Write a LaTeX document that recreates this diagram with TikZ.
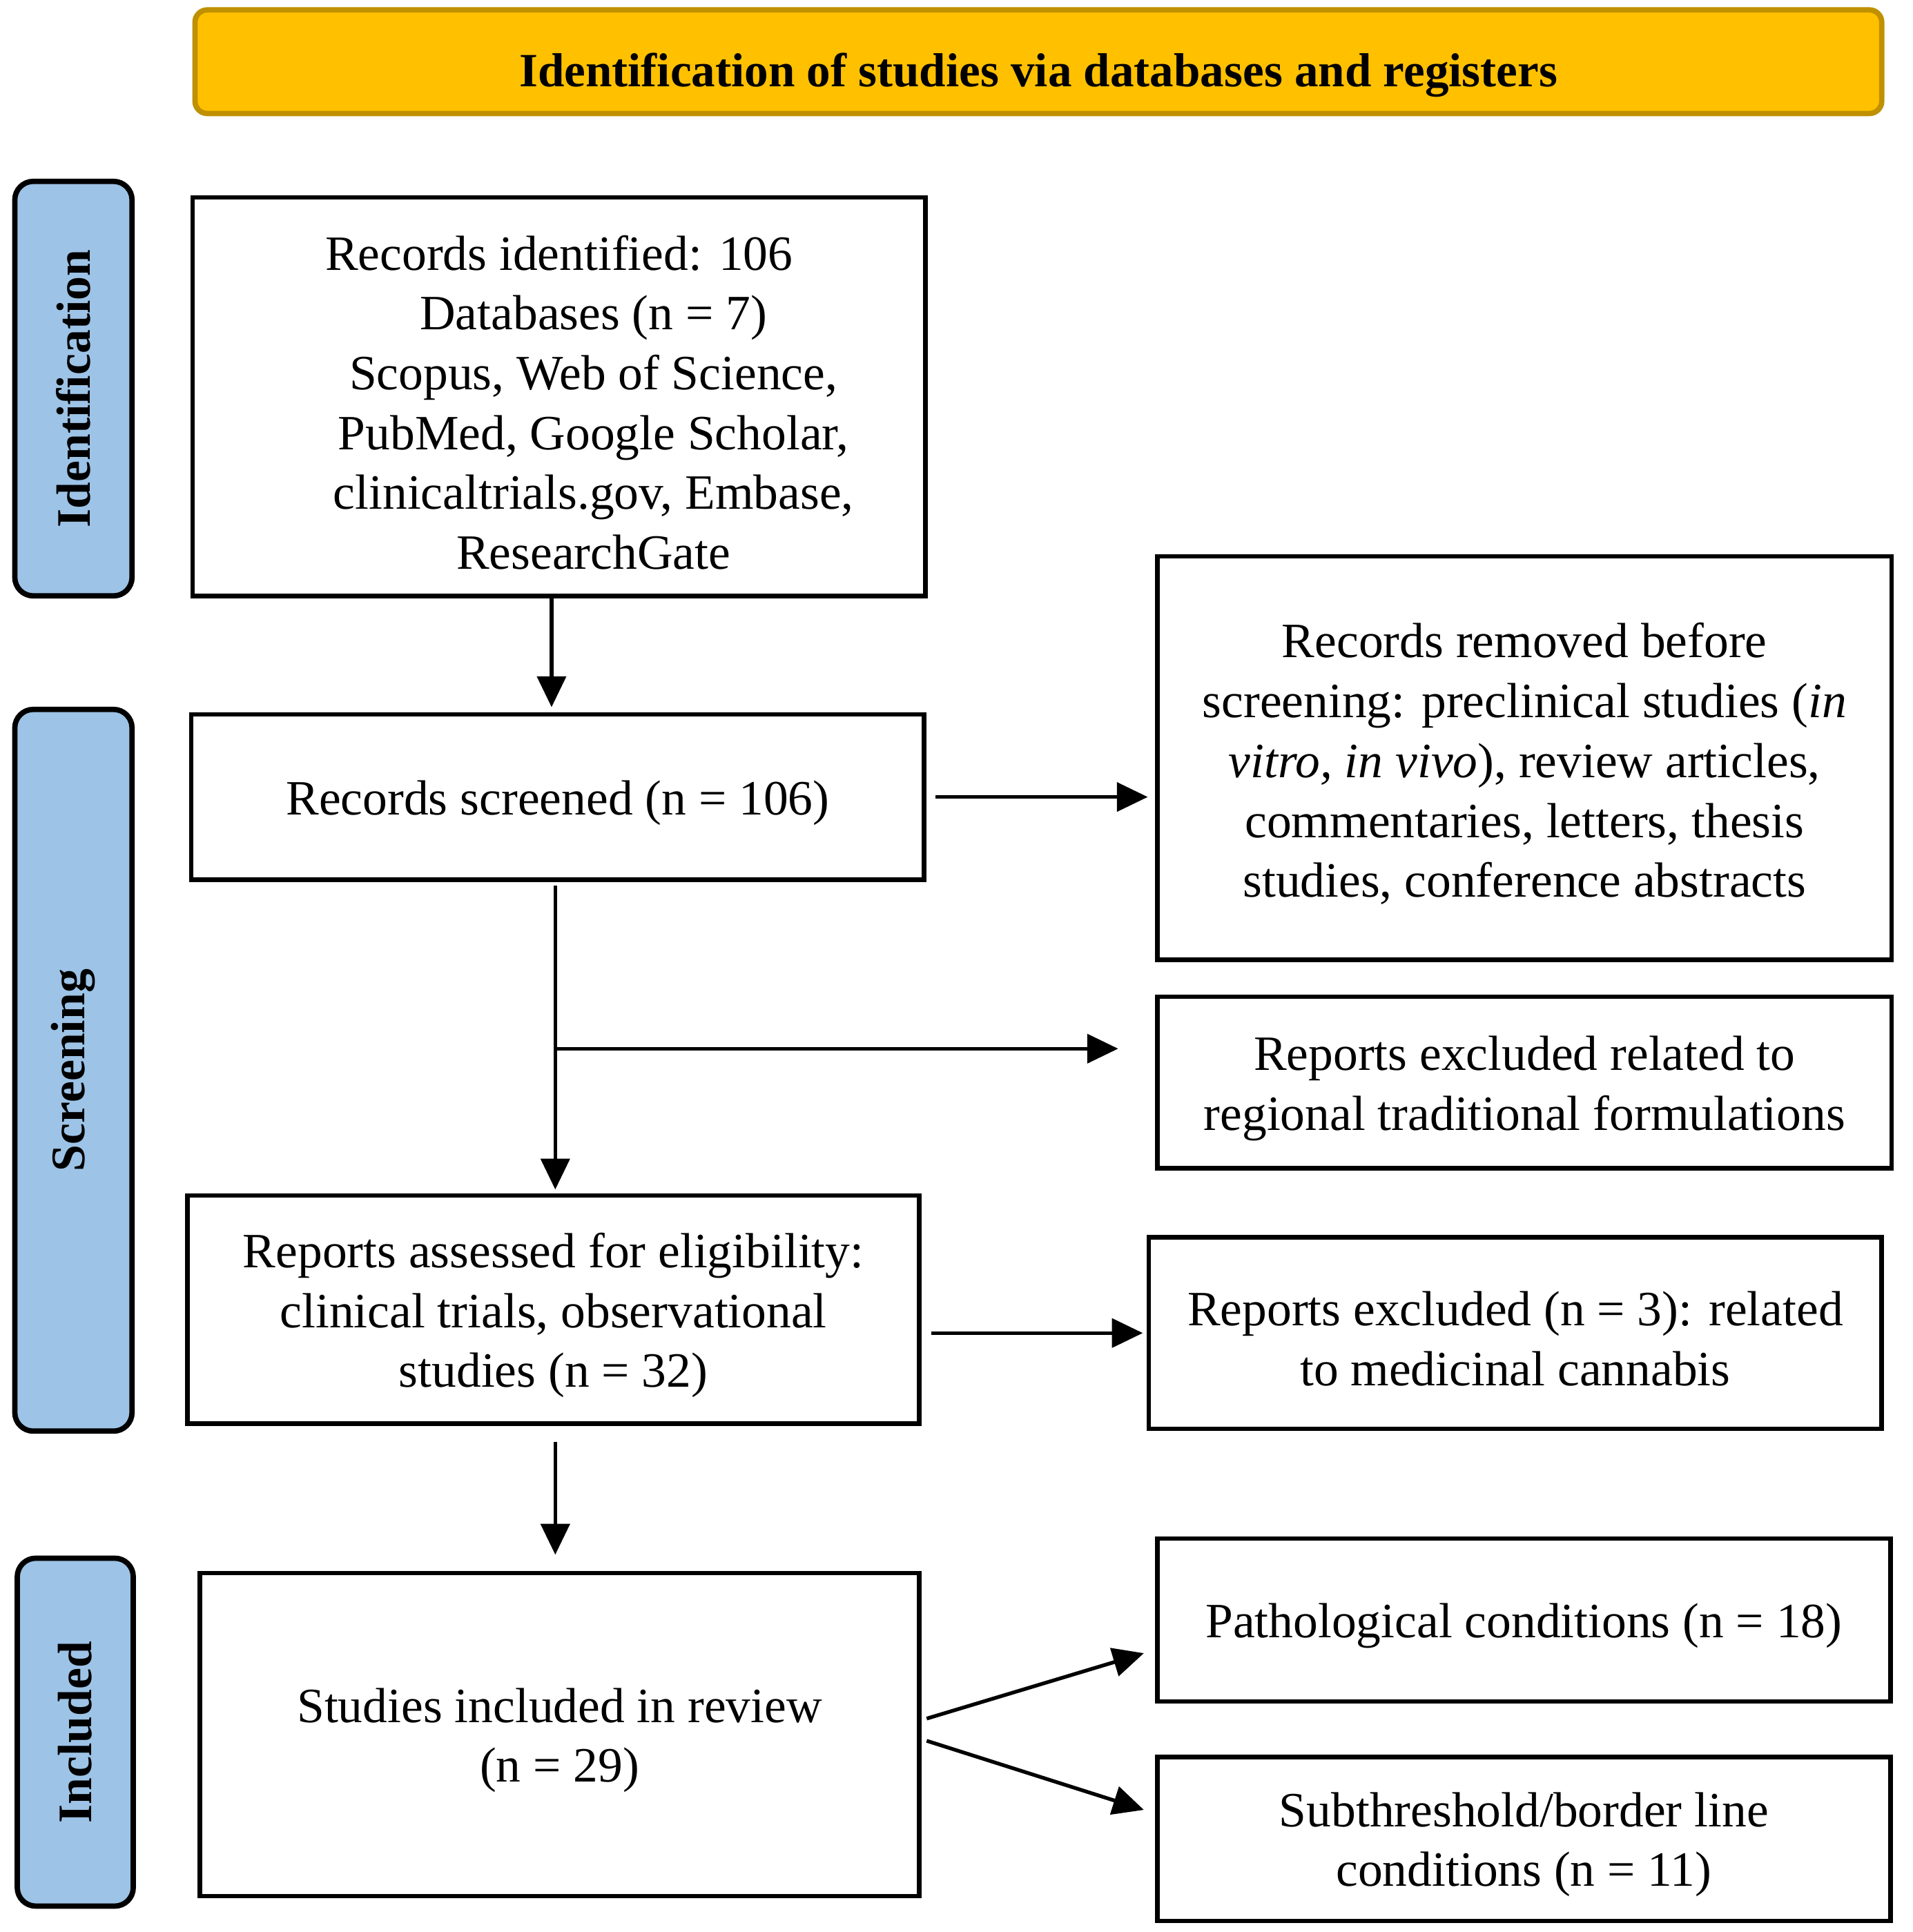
\documentclass[tikz,border=0pt]{standalone}
\usepackage{fontspec}
\setmainfont{Liberation Serif}
\usetikzlibrary{arrows.meta,fit,calc}
\definecolor{bannerfill}{HTML}{FFC000}
\definecolor{bannerline}{HTML}{BF9000}
\definecolor{sidefill}{HTML}{9DC3E6}
\begin{document}
\begin{tikzpicture}[x=0.3pt,y=-0.3pt,
  box/.style={draw=black,line width=1.1pt,inner sep=0pt},
  boxtext/.style={inner sep=0pt,align=center,yshift=-1.4pt,font=\fontsize{12}{14.55}\selectfont},
  bannerbox/.style={draw=bannerline,fill=bannerfill,line width=1.3pt,rounded corners=3pt,inner sep=0pt},
  bannertext/.style={inner sep=0pt,yshift=-3.3pt,font=\fontsize{11.6}{14}\selectfont\bfseries},
  sidebox/.style={draw=black,fill=sidefill,line width=1.3pt,rounded corners=4.5pt,inner sep=0pt},
  sidetext/.style={rotate=90,font=\fontsize{11.7}{14}\selectfont\bfseries},
  arr/.style={-{Triangle[length=7.5pt,width=7pt]},line width=0.9pt},
]
\useasboundingbox (0,0) rectangle (1550,1566);

% banner
\node[bannerbox, fit={(158,8) (1525,92)}] (ban) {};
\node[bannertext] (bant) at (ban.center) {Identification of studies via databases and registers};

% side labels
\node[sidebox, fit={(12,147) (107,483)}] (sid1) {};
\node[sidetext] (sid1t) at (sid1.center) {Identification};
\node[sidebox, fit={(12,575) (107,1160)}] (sid2) {};
\node[sidetext] (sid2t) at (sid2.center) {Screening};
\node[sidebox, fit={(14,1263) (108,1545)}] (sid3) {};
\node[sidetext] (sid3t) at (sid3.center) {Included};

% main boxes
\node[box, fit={(156,160) (750,483)}] (b1) {};
\node[boxtext] (b1t) at (b1.center) {Records identified: 106\\
\hspace*{16.8pt}Databases (n = 7)\\
\hspace*{16.8pt}Scopus, Web of Science,\\
\hspace*{16.8pt}PubMed, Google Scholar,\\
\hspace*{16.8pt}clinicaltrials.gov, Embase,\\
\hspace*{16.8pt}ResearchGate};
\node[box, fit={(155,579) (749,713)}] (b2) {};
\node[boxtext] (b2t) at (b2.center) {Records screened (n = 106)};
\node[box, fit={(152,969) (745,1154)}] (b3) {};
\node[boxtext] (b3t) at (b3.center) {Reports assessed for eligibility:\\
clinical trials, observational\\
studies (n = 32)};
\node[box, fit={(162,1275) (745,1537)}] (b4) {};
\node[boxtext] (b4t) at (b4.center) {Studies included in review\\(n = 29)};

% right boxes
\node[box, fit={(938,451) (1533,778)}] (r1) {};
\node[boxtext] (r1t) at (r1.center) {Records removed before\\
screening: preclinical studies (\textit{in}\\
\textit{vitro, in vivo}), review articles,\\
commentaries, letters, thesis\\
studies, conference abstracts};
\node[box, fit={(938,808) (1533,947)}] (r2) {};
\node[boxtext] (r2t) at (r2.center) {Reports excluded related to\\regional traditional formulations};
\node[box, fit={(931,1003) (1525,1158)}] (r3) {};
\node[boxtext] (r3t) at (r3.center) {Reports excluded (n = 3): related\\to medicinal cannabis};
\node[box, fit={(938,1247) (1532,1379)}] (r4) {};
\node[boxtext] (r4t) at (r4.center) {Pathological conditions (n = 18)};
\node[box, fit={(938,1424) (1532,1557)}] (r5) {};
\node[boxtext] (r5t) at (r5.center) {Subthreshold/border line\\conditions (n = 11)};

% connectors
\draw[arr, shorten >=1.2pt] (b1.south -| 447,0) -- (b2.north -| 447,0);
\draw[arr, shorten <=2.1pt, shorten >=1.8pt] (b2.east) -- (b2.east -| r1.west);
\draw[arr, shorten <=0.9pt, shorten >=0.9pt] (b2.south -| 450,0) -- (b3.north -| 450,0);
\coordinate (br) at (450,850);
\draw[arr, shorten >=9pt] (br) -- (br -| r2.west);
\draw[arr, shorten <=2.4pt, shorten >=0.9pt] (b3.east |- r3.west) -- (r3.west);
\draw[arr, shorten <=3.9pt, shorten >=3.9pt] (b3.south -| 450,0) -- (b4.north -| 450,0);
\coordinate (d1s) at (751,1393);
\coordinate (d1e) at (927,1340);
\coordinate (d2s) at (751,1411);
\coordinate (d2e) at (927,1467);
\draw[arr] (d1s) -- (d1e);
\draw[arr] (d2s) -- (d2e);
\end{tikzpicture}
\end{document}
